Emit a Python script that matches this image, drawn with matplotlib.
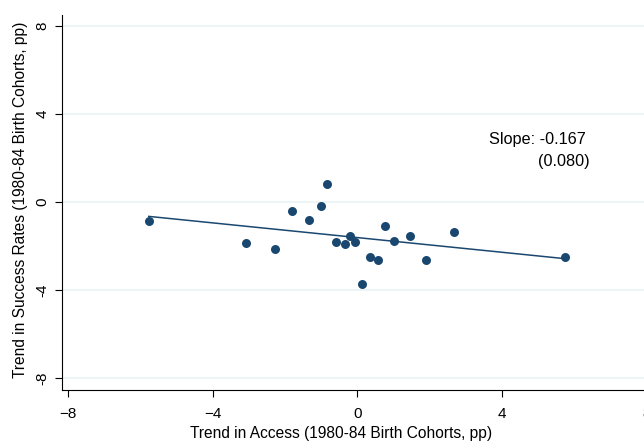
import numpy as np
import matplotlib.pyplot as plt

plt.rcParams['font.family'] = ['Liberation Sans', 'DejaVu Sans']

# trend in access (x) and trend in success rates (y), pp
access = [-5.77, -3.09, -2.29, -1.80, -1.35, -1.02, -0.83, -0.58, -0.34, -0.20,
          -0.06, 0.13, 0.34, 0.56, 0.76, 1.02, 1.45, 1.90, 2.67, 5.75]
success = [-0.85, -1.86, -2.12, -0.40, -0.82, -0.18, 0.83, -1.82, -1.92, -1.56,
           -1.82, -3.73, -2.50, -2.65, -1.08, -1.76, -1.53, -2.64, -1.35, -2.50]

slope = -0.167
intercept = -1.62
slope_se = 0.080

navy = '#1a476f'

fig = plt.figure(figsize=(6.44, 4.41), dpi=100)
ax = fig.add_axes([62/644, 51/441, 1.021 - 62/644, (390-15)/441])

ax.scatter(access, success, s=42, color=navy, zorder=3, linewidths=0)
xs = np.array([min(access), max(access)])
ax.plot(xs, intercept + slope * xs, color=navy, lw=1.1, zorder=2)

ax.text(3.64, 2.86, 'Slope: %.3f' % slope, fontsize=11.7, va='center', ha='left')
ax.text(5.00, 1.86, '(%.3f)' % slope_se, fontsize=11.7, va='center', ha='left')

ax.set_xlim(-8.17, 8.3)
ax.set_ylim(-8.55, 8.5)
ax.set_xticks([-8, -4, 0, 4, 8])
ax.set_yticks([-8, -4, 0, 4, 8])
ax.set_yticklabels(['-8', '-4', '0', '4', '8'], rotation=90, va='center')
ax.tick_params(labelsize=11, length=5, width=0.8, color='black')
ax.tick_params(axis='x', pad=7.5)
ax.tick_params(axis='y', pad=4)
ax.grid(axis='y', color='#eaf2f3', lw=1.2)
ax.set_axisbelow(True)
for s in ['top', 'right']:
    ax.spines[s].set_visible(False)
ax.spines['left'].set_linewidth(0.8)
ax.spines['bottom'].set_linewidth(0.8)

ax.set_xlabel('Trend in Access (1980-84 Birth Cohorts, pp)', fontsize=11.2)
ax.set_ylabel('Trend in Success Rates (1980-84 Birth Cohorts, pp)', fontsize=11.2)
ax.xaxis.set_label_coords(0.4685, -0.095)
ax.yaxis.set_label_coords(-0.057, 0.507)

fig.savefig('out.png', dpi=100)
